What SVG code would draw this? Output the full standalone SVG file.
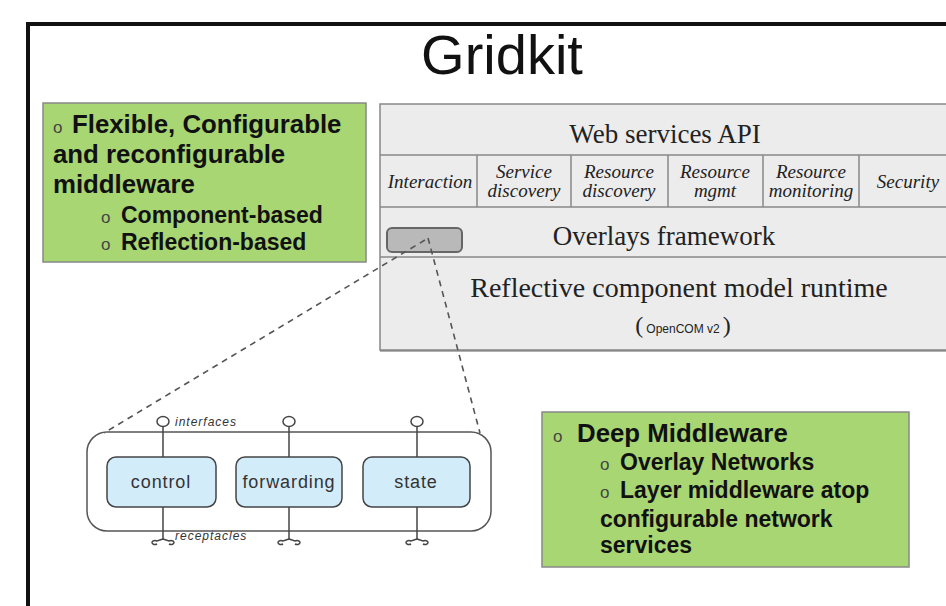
<svg xmlns="http://www.w3.org/2000/svg" width="946" height="606" viewBox="0 0 946 606">
<style>
.serif{font-family:"Liberation Serif","Times New Roman",serif;fill:#222}
.it{font-style:italic;font-size:19px}
.sans{font-family:"Liberation Sans",Arial,sans-serif}
.b1{font-family:"Liberation Sans",Arial,sans-serif;font-weight:bold;font-size:25.8px;fill:#111}
.b2{font-family:"Liberation Sans",Arial,sans-serif;font-weight:bold;font-size:23px;fill:#111}
.bul{font-family:"Liberation Sans",Arial,sans-serif;font-size:17px;fill:#444}
.green{fill:#a8d673;stroke:#888;stroke-width:1.5}
.row{stroke:#888;stroke-width:1.5;fill:none}
.comp{fill:#d3ecfa;stroke:#444;stroke-width:1.5}
.ctext{font-family:"Liberation Sans",Arial,sans-serif;font-size:18px;fill:#333;text-anchor:middle;letter-spacing:0.9px}
.port{stroke:#444;stroke-width:1.5;fill:#fff}
.small{font-family:"Liberation Sans",Arial,sans-serif;font-size:12px;font-style:italic;fill:#333;letter-spacing:1px}
.dash{stroke:#555;stroke-width:1.6;fill:none;stroke-dasharray:6 5}
</style>
<rect x="0" y="0" width="946" height="606" fill="#fff"/>
<g id="frame">
<rect x="28" y="24" width="950" height="620" fill="#fff" stroke="#111" stroke-width="4"/>
</g>
<g id="title">
<text x="502" y="74" class="sans" font-size="56" text-anchor="middle" fill="#111">Gridkit</text>
</g>
<g id="gridkit-stack">
<rect x="380" y="104" width="570" height="246" fill="#ececec" stroke="#888" stroke-width="1.5"/>
<line x1="380" y1="351" x2="946" y2="351" stroke="#666" stroke-width="1"/>
<line class="row" x1="380" y1="155" x2="950" y2="155"/>
<line class="row" x1="380" y1="207" x2="950" y2="207"/>
<line class="row" x1="380" y1="257" x2="950" y2="257"/>
<line class="row" x1="477" y1="155" x2="477" y2="207"/>
<line class="row" x1="571" y1="155" x2="571" y2="207"/>
<line class="row" x1="668" y1="155" x2="668" y2="207"/>
<line class="row" x1="763" y1="155" x2="763" y2="207"/>
<line class="row" x1="859" y1="155" x2="859" y2="207"/>
<text class="serif" x="665" y="143" font-size="27" text-anchor="middle">Web services API</text>
<text class="serif it" x="430" y="188" text-anchor="middle">Interaction</text>
<text class="serif it" x="524" y="178" text-anchor="middle">Service</text>
<text class="serif it" x="524" y="197" text-anchor="middle">discovery</text>
<text class="serif it" x="619" y="178" text-anchor="middle">Resource</text>
<text class="serif it" x="619" y="197" text-anchor="middle">discovery</text>
<text class="serif it" x="715" y="178" text-anchor="middle">Resource</text>
<text class="serif it" x="715" y="197" text-anchor="middle">mgmt</text>
<text class="serif it" x="811" y="178" text-anchor="middle">Resource</text>
<text class="serif it" x="811" y="197" text-anchor="middle">monitoring</text>
<text class="serif it" x="908" y="188" text-anchor="middle">Security</text>
<text class="serif" x="664" y="245" font-size="27" text-anchor="middle">Overlays framework</text>
<rect x="387" y="228" width="75" height="24" rx="5" fill="#b9b9b9" stroke="#666" stroke-width="2"/>
<text class="serif" x="679" y="297" font-size="28" text-anchor="middle">Reflective component model runtime</text>
<text x="683" y="333" text-anchor="middle"><tspan class="serif" font-size="24">(</tspan><tspan class="sans" font-size="12" fill="#222" dx="3">OpenCOM v2</tspan><tspan class="serif" font-size="24" dx="3">)</tspan></text>
</g>
<g id="box-flexible">
<rect class="green" x="43" y="103" width="323" height="159"/>
<text class="bul" x="53" y="133">o</text><text class="b1" x="72" y="133">Flexible, Configurable</text>
<text class="b1" x="53" y="163">and reconfigurable</text>
<text class="b1" x="53" y="193">middleware</text>
<text class="bul" x="101" y="223">o</text><text class="b2" x="121" y="223">Component-based</text>
<text class="bul" x="101" y="250">o</text><text class="b2" x="121" y="250">Reflection-based</text>
</g>
<g id="box-deep">
<rect class="green" x="542" y="412" width="367" height="155"/>
<text class="bul" x="553" y="442">o</text><text class="b1" x="577" y="442">Deep Middleware</text>
<text class="bul" x="600" y="470">o</text><text class="b2" x="620" y="470">Overlay Networks</text>
<text class="bul" x="600" y="498">o</text><text class="b2" x="620" y="498">Layer middleware atop</text>
<text class="b2" x="600" y="527">configurable network</text>
<text class="b2" x="600" y="553">services</text>
</g>
<g id="overlay-components">
<rect x="87" y="432" width="404" height="99" rx="20" fill="#fff" stroke="#555" stroke-width="1.5"/>
<line x1="163" y1="427" x2="163" y2="457" stroke="#444" stroke-width="1.5"/>
<line x1="289" y1="427" x2="289" y2="457" stroke="#444" stroke-width="1.5"/>
<line x1="417" y1="427" x2="417" y2="457" stroke="#444" stroke-width="1.5"/>
<line x1="163" y1="507" x2="163" y2="539" stroke="#444" stroke-width="1.5"/>
<line x1="289" y1="507" x2="289" y2="539" stroke="#444" stroke-width="1.5"/>
<line x1="417" y1="507" x2="417" y2="539" stroke="#444" stroke-width="1.5"/>
<ellipse class="port" cx="163" cy="421.5" rx="6" ry="5"/>
<ellipse class="port" cx="289" cy="421.5" rx="6" ry="5"/>
<ellipse class="port" cx="417" cy="421.5" rx="6" ry="5"/>
<path class="port" fill="none" d="M163 539 q-3 1 -6 2 a3 2 0 1 0 0 3 M163 539 q3 1 6 2 a3 2 0 1 1 0 3"/>
<path class="port" fill="none" d="M289 539 q-3 1 -6 2 a3 2 0 1 0 0 3 M289 539 q3 1 6 2 a3 2 0 1 1 0 3"/>
<path class="port" fill="none" d="M417 539 q-3 1 -6 2 a3 2 0 1 0 0 3 M417 539 q3 1 6 2 a3 2 0 1 1 0 3"/>
<text class="small" x="175" y="426">interfaces</text>
<text class="small" x="175" y="540">receptacles</text>
<g id="control"><rect class="comp" x="107" y="457" width="109" height="50" rx="9"/><text class="ctext" x="161" y="488">control</text></g>
<g id="forwarding"><rect class="comp" x="236" y="457" width="106" height="50" rx="9"/><text class="ctext" x="289" y="488">forwarding</text></g>
<g id="state"><rect class="comp" x="363" y="457" width="107" height="50" rx="9"/><text class="ctext" x="416" y="488">state</text></g>
</g>
<g id="connectors">
<line class="dash" x1="425" y1="240" x2="104" y2="433"/>
<line class="dash" x1="428" y1="238" x2="480" y2="433"/>
</g>
</svg>
